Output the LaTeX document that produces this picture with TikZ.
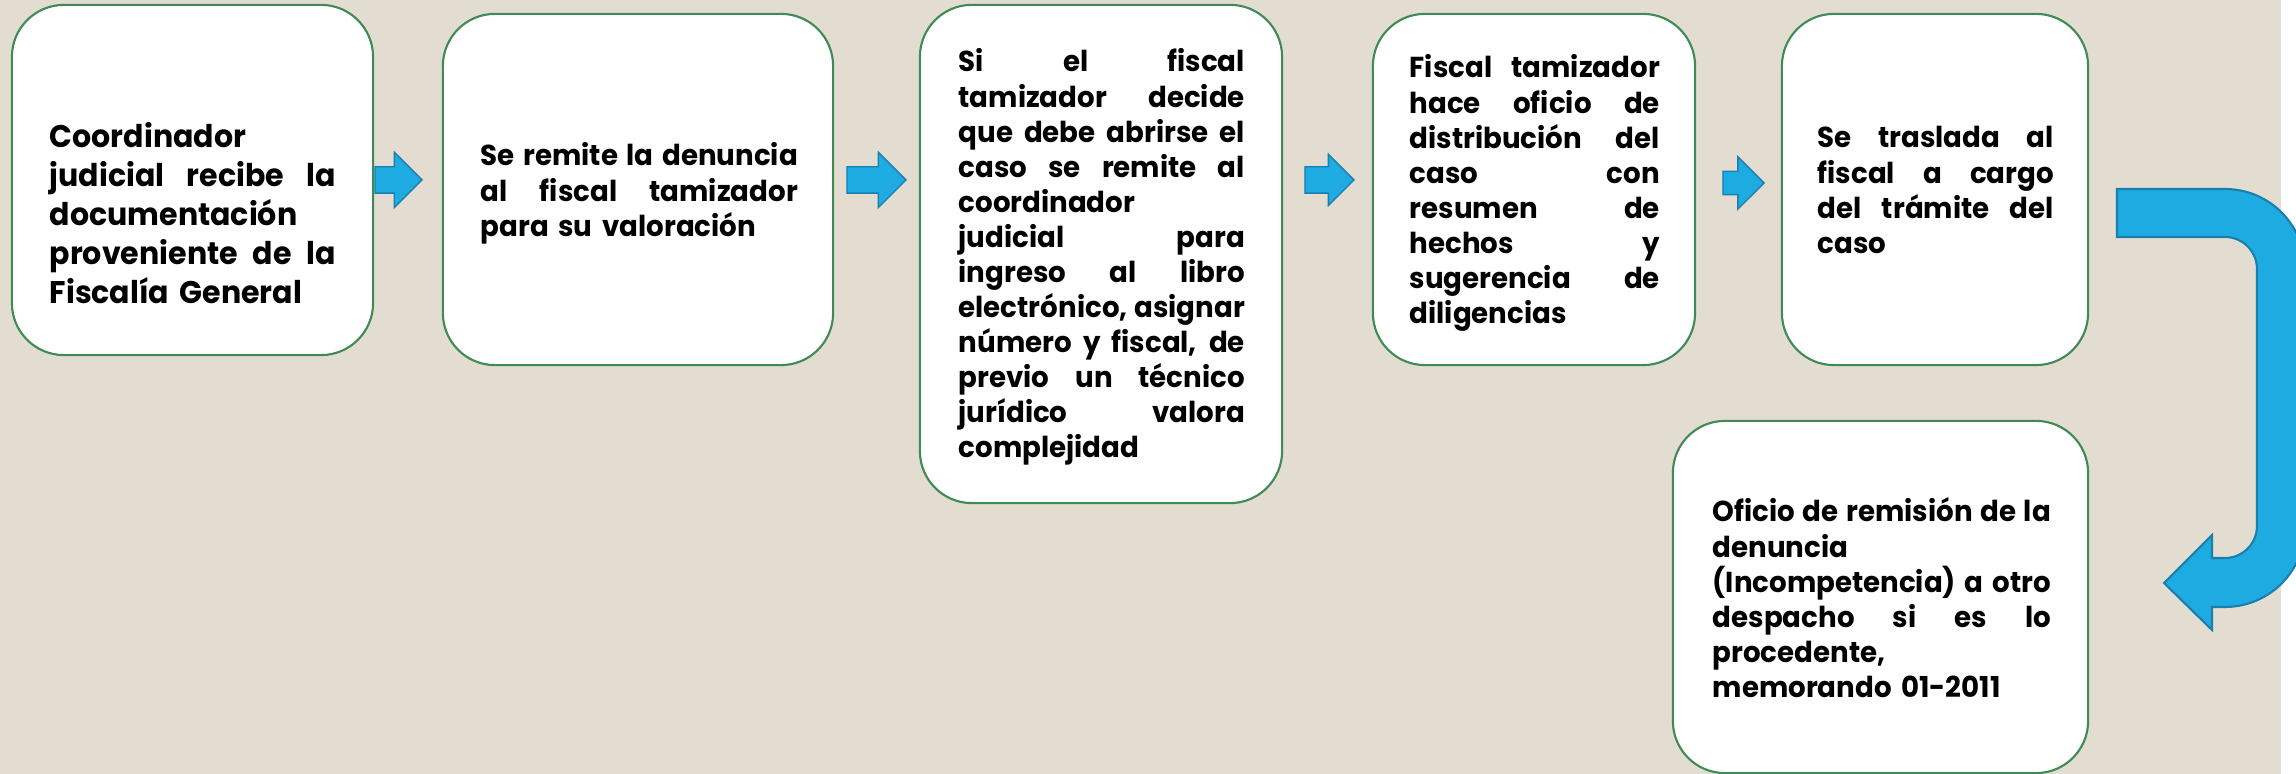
\documentclass[tikz,border=0pt]{standalone}
\usepackage{fontspec}
\setmainfont{Poppins}[FakeStretch=0.96]
\usepackage{tikz}
\usetikzlibrary{shapes.arrows}
\definecolor{paper}{HTML}{E3DDD1}
\definecolor{boxgreen}{HTML}{3F8A55}
\definecolor{arrowblue}{HTML}{1EABE1}
\definecolor{arrowline}{HTML}{1A7FAE}
\tikzstyle{stepbox}=[draw=boxgreen,line width=0.6pt,fill=white,rounded corners=0.52cm,inner sep=0pt]
\tikzstyle{boxtext}=[anchor=base west,inner sep=0pt,align=left,font=\bfseries\fontsize{8.2pt}{9.96pt}\selectfont]
\tikzstyle{flow}=[single arrow,draw=arrowline,fill=arrowblue,line width=0.4pt,inner xsep=0pt,inner ysep=0.125cm,minimum width=0.54cm,single arrow head extend=0.145cm,anchor=tip]
\tikzset{tw/.style={text width=#1,/utils/exec={\def\jwidth{#1}}}}
% one justified line: spaces stretch to fill the box width
\newcommand{\jl}[1]{\makebox[\jwidth][s]{\spaceskip=.26em plus 1fil minus .08em #1}}

\begin{document}
\begin{tikzpicture}[x=0.01cm,y=-0.01cm]
\useasboundingbox (0,0) rectangle (2296,774);
\clip (0,0) rectangle (2296,774);
\fill[white] (0,0) rectangle (2296,774);
\fill[paper] (0,0) rectangle (2281,774);

% boxes
\node[stepbox,minimum width=3.61cm,minimum height=3.50cm] (b1) at (192.5,180) {};
\node[stepbox,minimum width=3.90cm,minimum height=3.51cm] (b2) at (638,189.5) {};
\node[stepbox,minimum width=3.62cm,minimum height=4.98cm] (b3) at (1101,254) {};
\node[stepbox,minimum width=3.22cm,minimum height=3.51cm] (b4) at (1534,189.5) {};
\node[stepbox,minimum width=3.06cm,minimum height=3.51cm] (b5) at (1935,189.5) {};
\node[stepbox,minimum width=4.15cm,minimum height=3.52cm] (b6) at (1880.5,597) {};

% texts
\node[boxtext,tw=2.86cm,font=\bfseries\fontsize{8.9pt}{11.04pt}\selectfont] (t1) at (49,148)
  {Coordinador\\ \jl{judicial recibe la}\\ documentación\\ \jl{proveniente de la}\\ Fiscalía General};
\node[boxtext,tw=3.17cm] (t2) at (480,166)
  {\jl{Se remite la denuncia}\\ \jl{al fiscal tamizador}\\ para su valoración};
\node[boxtext,tw=2.86cm] (t3) at (958,72)
  {\jl{Si el fiscal}\\ \jl{tamizador decide}\\ \jl{que debe abrirse el}\\ \jl{caso se remite al}\\
   coordinador\\ \jl{judicial para}\\ \jl{ingreso al libro}\\ \jl{electrónico, asignar}\\
   \jl{número y fiscal, de}\\ \jl{previo un técnico}\\ \jl{jurídico valora}\\ complejidad};
\node[boxtext,tw=2.50cm] (t4) at (1409,78)
  {\jl{Fiscal tamizador}\\ \jl{hace oficio de}\\ \jl{distribución del}\\ \jl{caso con}\\
   \jl{resumen de}\\ \jl{hechos y}\\ \jl{sugerencia de}\\ diligencias};
\node[boxtext,tw=2.36cm] (t5) at (1817,148)
  {\jl{Se traslada al}\\ \jl{fiscal a cargo}\\ \jl{del trámite del}\\ caso};
\node[boxtext,tw=3.38cm] (t6) at (1712,522)
  {\jl{Oficio de remisión de la}\\ denuncia\\ \jl{(Incompetencia) a otro}\\ \jl{despacho si es lo}\\
   procedente,\\ memorando 01-2011};

% arrows
\node[flow,minimum height=0.47cm] (a1) at (423,180) {};
\node[flow,minimum height=0.59cm] (a2) at (907,180) {};
\node[flow,minimum height=0.49cm,minimum width=0.50cm,single arrow head extend=0.125cm] (a3) at (1355,180) {};
\node[flow,minimum height=0.41cm,inner ysep=0.11cm,minimum width=0.51cm,single arrow head extend=0.145cm] (a4) at (1765,183) {};

% turn arrow
\draw[draw=arrowline,fill=arrowblue,line width=0.6pt] (2117,189) [rounded corners=0.8cm] -- (2305,189) -- (2305,607)
  [sharp corners] -- (2212,607) -- (2212,630) -- (2164,583) -- (2212,535) -- (2212,558)
  [rounded corners=0.32cm] -- (2257,558) -- (2257,237) [sharp corners] -- (2117,237) -- cycle;
\end{tikzpicture}
\end{document}
